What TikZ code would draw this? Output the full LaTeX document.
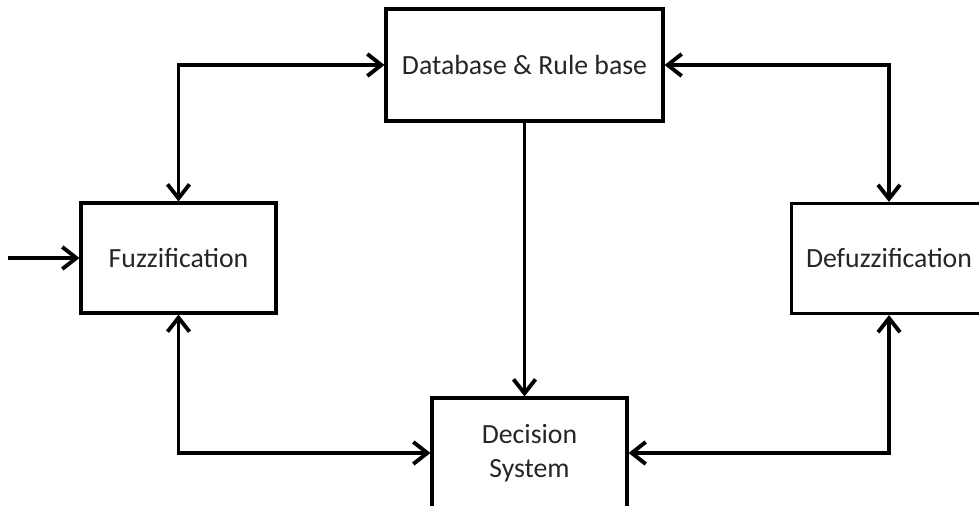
\documentclass[tikz,border=0pt]{standalone}
\usepackage{fontspec}
\setmainfont{Carlito}
\usepackage{tikz}
\usetikzlibrary{arrows.meta}

\begin{document}
\begin{tikzpicture}[x=0.02cm, y=-0.02cm]
			\tikzstyle{Block}	= [rectangle, draw, line width=1.8pt, fill=white, text=black!85, align=center, font=\fontsize{15.8}{19}\selectfont, minimum width=3.9cm, minimum height=2.2cm, inner sep=2pt]
			\tikzstyle{Link}	= [line width=2.2pt, {Straight Barb[length=2.8mm, width=4.4mm, line width=2.2pt]}-{Straight Barb[length=2.8mm, width=4.4mm, line width=2.2pt]}]
			\tikzstyle{OneWay}	= [line width=2.2pt, -{Straight Barb[length=2.8mm, width=4.4mm, line width=2.2pt]}]
			
			\useasboundingbox (0,0) rectangle (979,506);
			\clip (0,0) rectangle (979,506);
			
			\node (db) at (524.5, 65) [Block][minimum width=5.54cm, minimum height=2.24cm] {Database \& Rule base};
			\node (fz) at (178.5, 258) [Block] {Fuzzification};
			\node (dfz) at (889, 258.5) [Block] {Defuzzification};
			\node (ds) at (529.5, 453) [Block] {Decision\\System};
			\coordinate (input) at (8, 258);
			
			\draw [Link] (fz.north) |- (db.west);
			\draw [Link] (db.east) -| (dfz.north);
			\draw [Link] (fz.south) |- (ds.west);
			\draw [Link] (dfz.south) |- (ds.east);
			\draw [OneWay] (db.south) -- (db.south |- ds.north);
			\draw [OneWay] (input) -- (fz.west);
		\end{tikzpicture}
\end{document}
